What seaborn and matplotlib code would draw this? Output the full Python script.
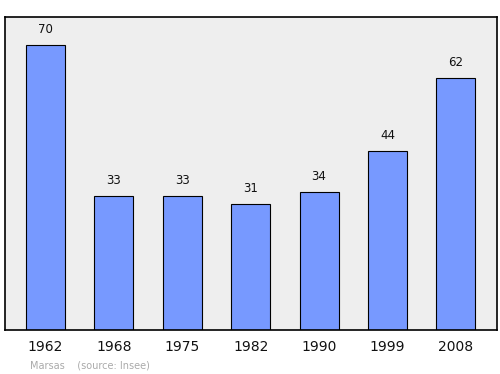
import matplotlib
matplotlib.use("Agg")
import matplotlib.pyplot as plt
import seaborn as sns
import pandas as pd

years = ["1962", "1968", "1975", "1982", "1990", "1999", "2008"]
population = [70, 33, 33, 31, 34, 44, 62]

df = pd.DataFrame({"year": years, "pop": population})

sns.set_style("white")
plt.rcParams['font.family'] = ['DejaVu Sans']

fig = plt.figure(figsize=(5, 3.74), dpi=100)
ax = fig.add_axes([0.01, 0.1176, 0.984, 0.837])
ax.set_facecolor("#eeeeee")
sns.barplot(data=df, x="year", y="pop", ax=ax, color="#7799ff", saturation=1,
            width=0.57, edgecolor="black", linewidth=0.8)
ax.set_xlim(-0.59, 6.6)
ax.set_ylim(0, 76.9)
for i, v in enumerate(population):
    ax.annotate(str(v), (i, v), xytext=(0, 6.5), textcoords="offset points",
                ha="center", va="bottom", fontsize=8.5, color="#111111")
ax.set_xlabel("")
ax.set_ylabel("")
ax.set_yticks([])
ax.tick_params(axis="x", length=0, labelsize=10, pad=7, labelcolor="#111111")
for s in ax.spines.values():
    s.set_visible(True)
    s.set_color("black")
    s.set_linewidth(1.2)
fig.text(0.06, 0.0135, "Marsas    (source: Insee)", fontsize=7, color="#aaaaaa")
fig.savefig("out.png", dpi=100)
